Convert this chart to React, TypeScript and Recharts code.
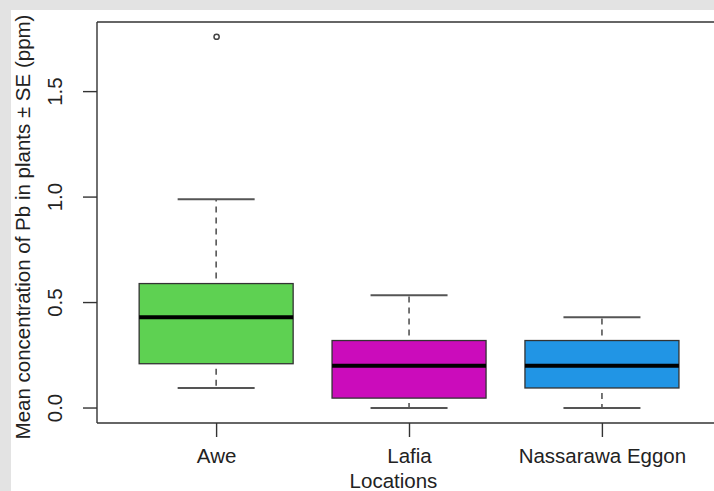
import { ComposedChart, Bar, Scatter, XAxis, YAxis, ReferenceLine } from 'recharts';

const LOCATIONS = ['Awe', 'Lafia', 'Nassarawa Eggon'];
const WHISKER_LOW = [0.095, 0.0, 0.0];
const Q1 = [0.21, 0.047, 0.095];
const MEDIAN = [0.43, 0.2, 0.2];
const Q3 = [0.59, 0.32, 0.32];
const WHISKER_HIGH = [0.99, 0.535, 0.43];
const OUTLIER_LOCATION = ['Awe'];
const OUTLIER_VALUE = [1.76];
const Y_TICKS = [0, 0.5, 1.0, 1.5];
const Y_DOMAIN = [-0.071, 1.83];
const X_DOMAIN = [0.38, 3.62];

const COLORS = ['#5ed152', '#cb0cbb', '#2195e5'];
const FONT = '"Liberation Sans", Arial, sans-serif';

const boxes = LOCATIONS.map((name, i) => ({
  name,
  pos: i + 1,
  range: [WHISKER_LOW[i], WHISKER_HIGH[i]],
  low: WHISKER_LOW[i],
  q1: Q1[i],
  median: MEDIAN[i],
  q3: Q3[i],
  high: WHISKER_HIGH[i],
}));

const outliers = OUTLIER_LOCATION.map((loc, i) => ({
  pos: LOCATIONS.indexOf(loc) + 1,
  value: OUTLIER_VALUE[i],
}));

// range bar gives us the pixel span low..high, the rest is derived from it
function BoxShape(props: any) {
  const { x, y, width, height, payload } = props;
  const top = Math.min(y, y + height);
  const bottom = Math.max(y, y + height);
  const perUnit = (bottom - top) / (payload.high - payload.low);
  const py = (v: number) => top + (payload.high - v) * perUnit;
  const cx = x + width / 2;
  const color = COLORS[LOCATIONS.indexOf(payload.name)];
  const capHalf = width / 4;
  return (
    <g>
      <line x1={cx} y1={py(payload.q3)} x2={cx} y2={py(payload.high)} stroke="#555" strokeWidth={1.6} strokeDasharray="6 5" strokeDashoffset={6} />
      <line x1={cx} y1={py(payload.q1)} x2={cx} y2={py(payload.low)} stroke="#555" strokeWidth={1.6} strokeDasharray="6 5" strokeDashoffset={6} />
      <line x1={cx - capHalf} y1={py(payload.high)} x2={cx + capHalf} y2={py(payload.high)} stroke="#555" strokeWidth={2} />
      <line x1={cx - capHalf} y1={py(payload.low)} x2={cx + capHalf} y2={py(payload.low)} stroke="#555" strokeWidth={2} />
      <rect x={x} y={py(payload.q3)} width={width} height={py(payload.q1) - py(payload.q3)} fill={color} stroke="#333" strokeWidth={1.3} />
      <line x1={x} y1={py(payload.median)} x2={x + width} y2={py(payload.median)} stroke="#000" strokeWidth={4} />
    </g>
  );
}

function OutlierShape(props: any) {
  return <circle cx={props.cx} cy={props.cy} r={2.6} fill="none" stroke="#444" strokeWidth={1.5} />;
}

function XTick(props: any) {
  const { x, y, payload } = props;
  return (
    <text x={x} y={y + 24} textAnchor="middle" fontSize={20.5} fontFamily={FONT} fill="#222">
      {LOCATIONS[payload.value - 1]}
    </text>
  );
}

function YTick(props: any) {
  const { x, y, payload } = props;
  const bx = x - 19;
  return (
    <text x={bx} y={y} textAnchor="middle" fontSize={20.5} fontFamily={FONT} fill="#222" transform={`rotate(-90, ${bx}, ${y})`}>
      {payload.value.toFixed(1)}
    </text>
  );
}

function YTitle(props: any) {
  const vb = props.viewBox;
  const cy = vb.y + vb.height / 2 + 4.5;
  const bx = 30;
  return (
    <text x={bx} y={cy} textAnchor="middle" fontSize={20.5} fontFamily={FONT} fill="#222" transform={`rotate(-90, ${bx}, ${cy})`}>
      Mean concentration of Pb in plants ± SE (ppm)
    </text>
  );
}

function XTitle(props: any) {
  const vb = props.viewBox;
  return (
    <text x={vb.x + vb.width / 2 - 16} y={488} textAnchor="middle" fontSize={20.5} fontFamily={FONT} fill="#222">
      Locations
    </text>
  );
}

export default function App() {
  return (
    <div style={{ position: 'fixed', left: 0, top: 0, width: 714, height: 491, background: '#e3e3e3', overflow: 'hidden' }}>
      <div style={{ position: 'absolute', left: 11, top: 10, right: 0, bottom: 0, background: '#fff' }} />
      <div style={{ position: 'absolute', left: 0, top: 0 }}>
        <ComposedChart width={730} height={491} data={boxes} margin={{ top: 22, right: 8, bottom: 0, left: 0 }}>
          <XAxis
            type="number"
            dataKey="pos"
            domain={X_DOMAIN}
            ticks={[1, 2, 3]}
            allowDataOverflow
            height={68}
            tickSize={14}
            tick={<XTick />}
            axisLine={{ stroke: '#333', strokeWidth: 1.4 }}
            tickLine={{ stroke: '#333', strokeWidth: 1.4 }}
            label={<XTitle />}
          />
          <YAxis
            type="number"
            domain={Y_DOMAIN}
            ticks={Y_TICKS}
            allowDataOverflow
            width={97}
            tickSize={14}
            tick={<YTick />}
            axisLine={{ stroke: '#333', strokeWidth: 1.4 }}
            tickLine={{ stroke: '#333', strokeWidth: 1.4 }}
            label={<YTitle />}
          />
          <Bar dataKey="range" barSize={154} shape={<BoxShape />} isAnimationActive={false} />
          <Scatter data={outliers} dataKey="value" shape={<OutlierShape />} isAnimationActive={false} />
          <ReferenceLine y={Y_DOMAIN[1]} stroke="#333" strokeWidth={1.6} />
        </ComposedChart>
      </div>
    </div>
  );
}
